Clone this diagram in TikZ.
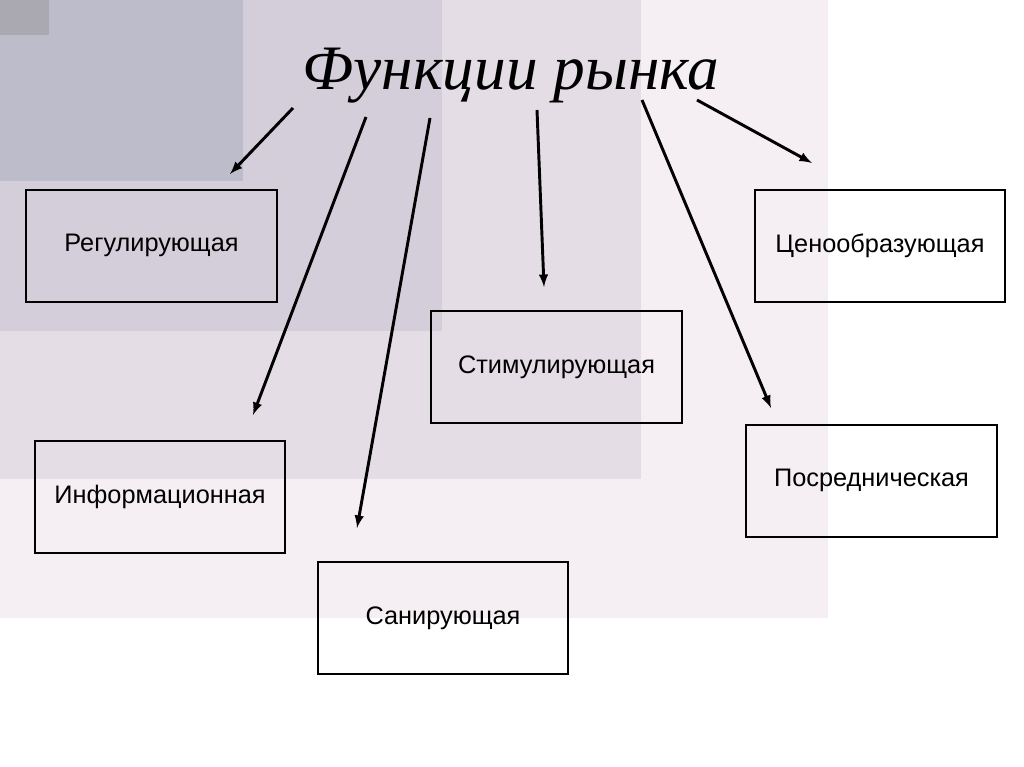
\documentclass[tikz,border=0pt]{standalone}
\usepackage{fontspec}
\setmainfont{Liberation Sans}
\newfontfamily\titlefont{Liberation Serif}
\usetikzlibrary{positioning}

\definecolor{bgpink}{HTML}{F5EEF2}
\definecolor{bgmid}{HTML}{E5DDE5}
\definecolor{bglav}{HTML}{D4CEDB}
\definecolor{bgblue}{HTML}{BDBCCB}
\definecolor{bggrey}{HTML}{AAA9B1}

\begin{document}
\begin{tikzpicture}[x=0.75pt, y=-0.75pt,
    func/.style={draw, line width=1.5pt, minimum width=188pt, minimum height=84pt,
      inner sep=0pt, font=\fontsize{19}{22}\selectfont},
    arr/.style={->, >=latex, line width=2.2pt}]

    % background
    \useasboundingbox (0,0) rectangle (1024,767);
    \fill[white] (0,0) rectangle (1024,767);
    \fill[bgpink] (0,0) rectangle (828,618);
    \fill[bgmid] (0,0) rectangle (641,479);
    \fill[bglav] (0,0) rectangle (442,331);
    \fill[bgblue] (0,0) rectangle (243,181);
    \fill[bggrey] (0,0) rectangle (49,35);

    % title
    \node (title) at (511,76) {\titlefont\itshape\fontsize{47.5}{56}\selectfont Функции рынка};

    % boxes
    \node[func] (reg) at (151.5,245.5) {Регулирующая};
    \node[func] (cen) at (880,245.5) {Ценообразующая};
    \node[func] (stim) at (556.5,367) {Стимулирующая};
    \node[func] (inf) at (160,496.5) {Информационная};
    \node[func] (posr) at (871.5,480.5) {Посредническая};
    \node[func] (san) at (443,618) {Санирующая};

    % arrows
    \coordinate (s1) at (293,108);
    \coordinate (e1) at (230,174);
    \coordinate (s2) at (366,117);
    \coordinate (e2) at (253,415);
    \coordinate (s3) at (430,118);
    \coordinate (e3) at (357,528);
    \coordinate (s4) at (537,110);
    \coordinate (e4) at (544,287);
    \coordinate (s5) at (642,100);
    \coordinate (e5) at (771,408);
    \coordinate (s6) at (697,100);
    \coordinate (e6) at (812,163);

    \draw[arr] (s1) -- (e1);
    \draw[arr] (s2) -- (e2);
    \draw[arr] (s3) -- (e3);
    \draw[arr] (s4) -- (e4);
    \draw[arr] (s5) -- (e5);
    \draw[arr] (s6) -- (e6);

\end{tikzpicture}
\end{document}
